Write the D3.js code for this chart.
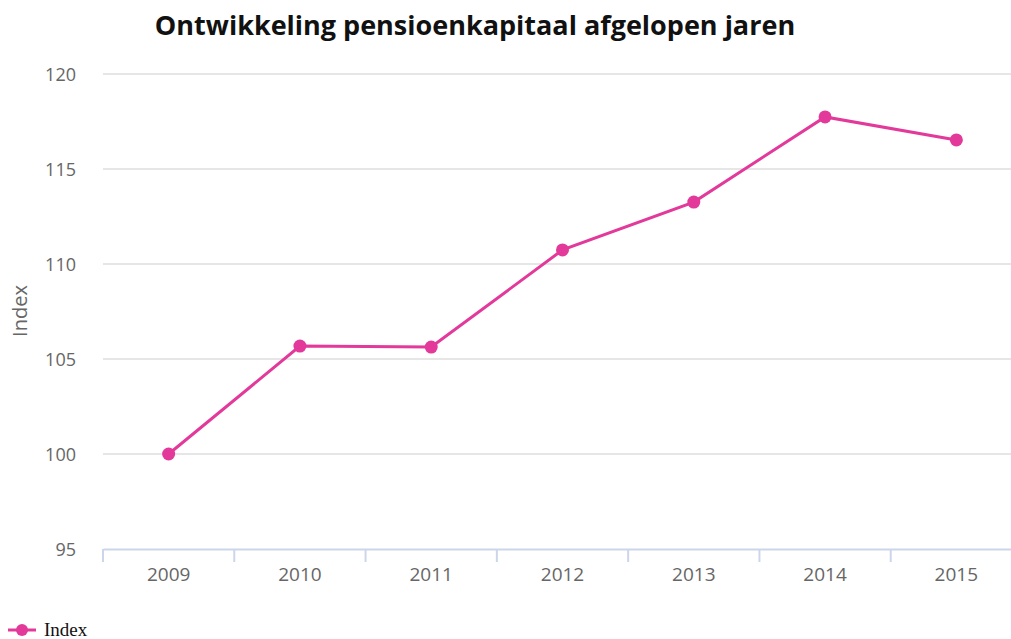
<!DOCTYPE html>
<html>

<head>
  <title>Pensioenkapitaal</title>
  <script src="https://cdn.jsdelivr.net/npm/d3@7/dist/d3.min.js"></script>
  <style>
    body { margin: 0; background: #fff; }
  </style>
</head>

<body>
  <svg width="1011" height="639" id="chart"></svg>
  <script>
    // data
    const years = ['2009', '2010', '2011', '2012', '2013', '2014', '2015'];
    const indexValues = [100, 105.68, 105.63, 110.74, 113.26, 117.74, 116.53];
    const yTicks = [95, 100, 105, 110, 115, 120];

    const svg = d3.select('#chart');
    const margin = { top: 74, left: 103, bottom: 549, right: 1022 };
    const color = '#e2399a';

    const xScale = d3.scaleBand().domain(years).range([margin.left, margin.right]);
    const yScale = d3.scaleLinear().domain([95, 120]).range([margin.bottom, margin.top]);

    // title
    svg.append('text')
      .attr('x', 475).attr('y', 35)
      .attr('text-anchor', 'middle')
      .attr('font-family', 'Open Sans, sans-serif')
      .attr('font-weight', 'bold')
      .attr('font-size', 27)
      .attr('fill', '#111')
      .text('Ontwikkeling pensioenkapitaal afgelopen jaren');

    // grid lines
    svg.append('g')
      .selectAll('line')
      .data(yTicks.filter(d => d != 95))
      .join('line')
      .attr('x1', margin.left).attr('x2', margin.right)
      .attr('y1', d => yScale(d)).attr('y2', d => yScale(d))
      .attr('stroke', '#e6e6e6')
      .attr('stroke-width', 2);

    // y axis labels
    const yAxis = d3.axisLeft(yScale).tickValues(yTicks).tickSize(0).tickPadding(0);
    svg.append('g')
      .attr('transform', 'translate(76,0)')
      .call(yAxis)
      .call(g => g.select('.domain').remove())
      .call(g => g.selectAll('text')
        .attr('font-family', 'Open Sans, sans-serif')
        .attr('font-size', 18)
        .attr('fill', '#666')
        .attr('dy', '0.35em'));

    // y axis title
    svg.append('text')
      .attr('transform', 'translate(27,311) rotate(-90)')
      .attr('text-anchor', 'middle')
      .attr('font-family', 'Open Sans, sans-serif')
      .attr('font-size', 20)
      .attr('fill', '#666')
      .text('Index');

    // x axis
    const xAxis = d3.axisBottom(xScale).tickSize(0).tickPadding(19);
    const xg = svg.append('g')
      .attr('transform', `translate(0,${margin.bottom})`)
      .call(xAxis)
      .call(g => g.select('.domain').attr('stroke', '#ccd6eb').attr('stroke-width', 2))
      .call(g => g.selectAll('text')
        .attr('font-family', 'Open Sans, sans-serif')
        .attr('font-size', 19)
        .attr('fill', '#666'));

    // tick marks on band boundaries
    xg.append('g')
      .selectAll('line')
      .data(years)
      .join('line')
      .attr('x1', d => xScale(d)).attr('x2', d => xScale(d))
      .attr('y1', 0).attr('y2', 13)
      .attr('stroke', '#ccd6eb')
      .attr('stroke-width', 2);

    // line + markers
    const pts = years.map((y, i) => ({ year: y, value: indexValues[i] }));
    const line = d3.line()
      .x(d => xScale(d.year) + xScale.bandwidth() / 2)
      .y(d => yScale(d.value));

    svg.append('path')
      .datum(pts)
      .attr('d', line)
      .attr('fill', 'none')
      .attr('stroke', color)
      .attr('stroke-width', 3);

    svg.append('g')
      .selectAll('circle')
      .data(pts)
      .join('circle')
      .attr('cx', d => xScale(d.year) + xScale.bandwidth() / 2)
      .attr('cy', d => yScale(d.value))
      .attr('r', 6.5)
      .attr('fill', color);

    // legend (cut off at the bottom in the reference)
    const legend = svg.append('g').attr('transform', 'translate(0,630)');
    legend.append('line')
      .attr('x1', 8).attr('x2', 36)
      .attr('stroke', color).attr('stroke-width', 3);
    legend.append('circle')
      .attr('cx', 22).attr('r', 6).attr('fill', color);
    legend.append('text')
      .attr('x', 44).attr('y', 6)
      .attr('font-family', 'Liberation Serif, serif')
      .attr('font-size', 19)
      .attr('fill', '#111')
      .text('Index');
  </script>
</body>

</html>
